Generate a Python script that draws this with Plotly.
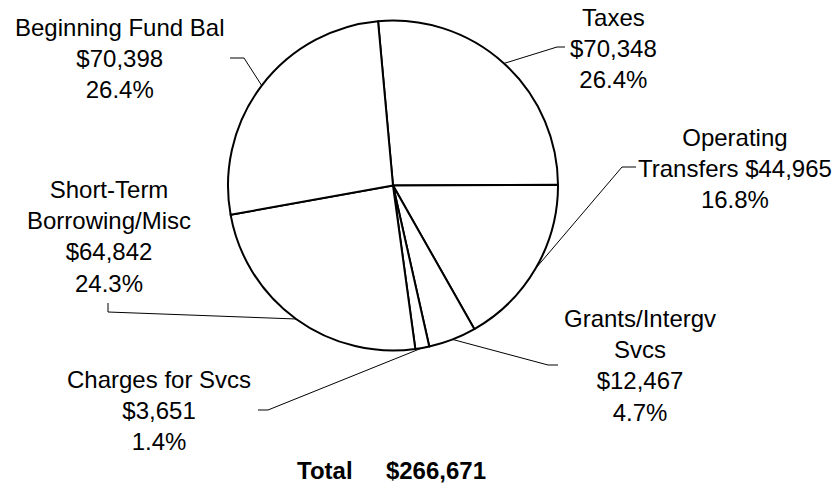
import math
import plotly.graph_objects as go

# revenue sources, clockwise from the top
categories = ["Taxes", "Operating Transfers", "Grants/Intergv Svcs",
              "Charges for Svcs", "Short-Term Borrowing/Misc", "Beginning Fund Bal"]
amounts = [70348, 44965, 12467, 3651, 64842, 70398]
pct_labels = ["26.4%", "16.8%", "4.7%", "1.4%", "24.3%", "26.4%"]
label_fmt = ["Taxes<br>{v}<br>{p}",
             "Operating<br>Transfers {v}<br>{p}",
             "Grants/Intergv<br>Svcs<br>{v}<br>{p}",
             "Charges for Svcs<br>{v}<br>{p}",
             "Short-Term<br>Borrowing/Misc<br>{v}<br>{p}",
             "Beginning Fund Bal<br>{v}<br>{p}"]

W, H = 837, 483
cx, cy, R = 393, 185.5, 165
rot = -5.2
FONT = "Liberation Sans, Arial, sans-serif"

# label centres and leader elbows/ends (pixels)
label_pos = [(613, 48), (735, 168), (640, 365), (159, 410), (109, 236), (119, 58)]
elbows = [((557, 47), (565, 47)),
          ((622, 167), (636, 167)),
          ((548, 365), (558, 365)),
          ((268, 410), (258, 410)),
          ((108, 312), (108, 303)),
          ((244, 58), (230, 58))]

fig = go.Figure()
fig.add_trace(go.Pie(
    labels=categories, values=amounts, sort=False, direction="clockwise",
    rotation=rot, textinfo="none", hoverinfo="label+value+percent",
    marker=dict(colors=["white"] * len(amounts), line=dict(color="black", width=2)),
    domain=dict(x=[(cx - R) / W, (cx + R) / W], y=[1 - (cy + R) / H, 1 - (cy - R) / H]),
    showlegend=False,
))

total = sum(amounts)
cum = 0
shapes = []
annotations = []
for i, v in enumerate(amounts):
    a = math.radians(rot + 360 * (cum + v / 2) / total)
    cum += v
    ex, ey = cx + R * math.sin(a), cy - R * math.cos(a)
    (bx, by), (tx, ty) = elbows[i]
    shapes.append(dict(type="path", xref="x", yref="y",
                       path=f"M {ex},{ey} L {bx},{by} L {tx},{ty}",
                       line=dict(color="black", width=1)))
    lx, ly = label_pos[i]
    annotations.append(dict(x=lx, y=ly, xref="x", yref="y", showarrow=False,
                            text=label_fmt[i].format(v=f"${v:,}", p=pct_labels[i]),
                            align="center", xanchor="center", yanchor="middle",
                            font=dict(family=FONT, size=24, color="black")))

annotations.append(dict(x=391, y=470, xref="x", yref="y", showarrow=False,
                        text="<b>Total" + "\u00a0" * 5 + f"${total:,}</b>",
                        xanchor="center", yanchor="middle",
                        font=dict(family=FONT, size=24, color="black")))

fig.update_layout(
    width=W, height=H,
    margin=dict(l=0, r=0, t=0, b=0),
    paper_bgcolor="white", plot_bgcolor="rgba(0,0,0,0)",
    xaxis=dict(range=[0, W], visible=False, fixedrange=True),
    yaxis=dict(range=[H, 0], visible=False, fixedrange=True),
    shapes=shapes, annotations=annotations,
)

# drop the default page margin so the figure sits at the window's corner
fig.write_html("out.html", config={"displayModeBar": False},
               post_script="document.body.style.margin='0';")
